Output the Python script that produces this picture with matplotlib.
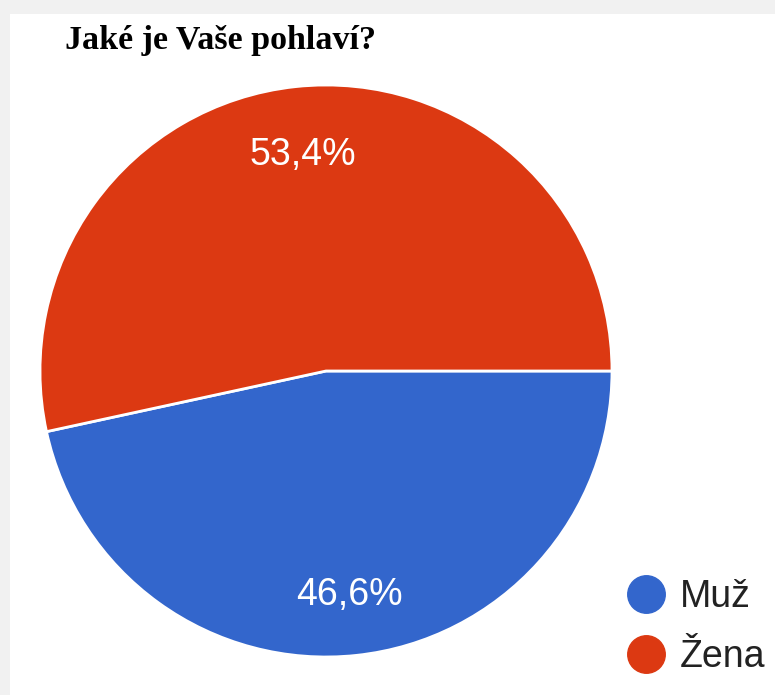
import matplotlib
matplotlib.use("Agg")
import matplotlib.pyplot as plt
from matplotlib.lines import Line2D
from matplotlib.patches import Rectangle

title = "Jaké je Vaše pohlaví?"
categories = ["Muž", "Žena"]
values = [46.6, 53.4]
colors = ["#3366CC", "#DC3912"]

W, H = 775, 695
fig = plt.figure(figsize=(W / 100, H / 100), dpi=100)
fig.patch.set_facecolor("#f1f1f1")
fig.patches.append(Rectangle((10 / W, 0), 1, 1 - 14 / H, transform=fig.transFigure,
                             facecolor="white", edgecolor="none", zorder=-5))

ax = fig.add_axes([0, 0, 1, 1])
ax.set_zorder(1)
ax.patch.set_alpha(0)

def fmt(p):
    return f"{p:.1f}".replace(".", ",") + "%"

wedges, texts, autotexts = ax.pie(
    values, colors=colors, startangle=0, counterclock=False,
    center=(326, H - 371), radius=286, autopct=fmt, pctdistance=0.775,
    wedgeprops=dict(edgecolor="white", linewidth=2),
    textprops=dict(color="white", fontsize=27, family="Liberation Sans"),
    frame=True,
)
for t in autotexts:
    t.set_va("center_baseline")
ax.set_xlim(0, W)
ax.set_ylim(0, H)
ax.set_aspect("equal")
ax.axis("off")

fig.text(65 / W, 1 - 41 / H, title, fontsize=24.5, fontweight="bold",
         family="Liberation Serif", ha="left", va="center", color="black",
         zorder=2)

handles = [Line2D([], [], marker="o", linestyle="none", markersize=27,
                  markerfacecolor=c, markeredgecolor=c) for c in colors]
leg = fig.legend(handles, categories, loc="lower right",
                 bbox_to_anchor=(1.0 + 5 / W, 0.0 + 5 / H), frameon=False,
                 prop=dict(family="Liberation Sans", size=27),
                 handlelength=1.0, handletextpad=0.4, labelspacing=0.64,
                 borderaxespad=0.0)
leg.set_zorder(3)
for t in leg.get_texts():
    t.set_color("#222222")

fig.savefig("out.png", dpi=100)
